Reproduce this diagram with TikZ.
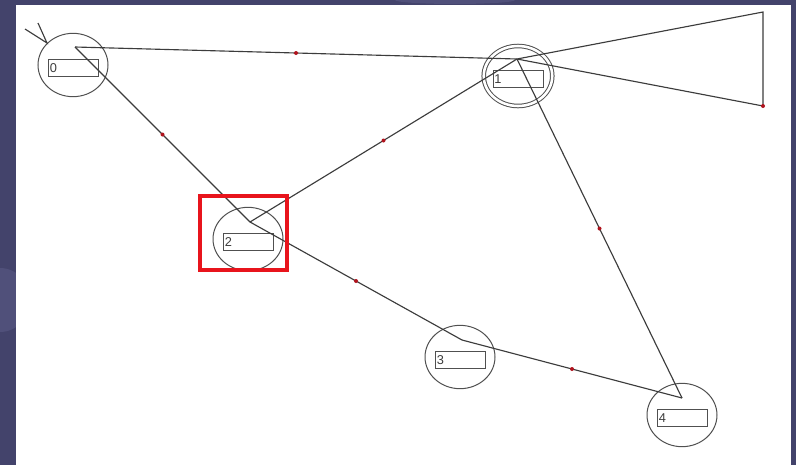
\documentclass[tikz,border=0pt]{standalone}
\usepackage{fontspec}
\setmainfont{Liberation Sans}
\usetikzlibrary{calc,positioning,shapes.geometric}
\definecolor{slate}{HTML}{43436B}
\definecolor{slatex}{HTML}{50507A}
\definecolor{inkx}{HTML}{3C3C3C}
\definecolor{grayx}{HTML}{505050}
\definecolor{dotred}{HTML}{B0141E}
\definecolor{markred}{HTML}{E8141C}
\tikzset{
  state/.style={ellipse,draw=grayx,line width=0.75pt,minimum width=52.5pt,minimum height=47.5pt,inner sep=0pt},
  accept/.style={state,double,double distance=1.9pt,minimum width=51.4pt,minimum height=45pt},
  tag/.style={draw=grayx,line width=0.75pt,text width=35.5pt,inner xsep=1pt,inner ysep=0pt,
    minimum height=12.75pt,align=left,font=\fontsize{9.6}{10}\selectfont,text=inkx},
  edge/.style={draw=inkx,line width=0.85pt},
  dot/.style={circle,fill=dotred,inner sep=0pt,minimum size=3pt}
}

\begin{document}
\begin{tikzpicture}[x=0.75pt,y=-0.75pt]
\useasboundingbox (0,0) rectangle (796,465);
\clip (0,0) rectangle (796,465);
% slide background and white panel
\fill[slate] (0,0) rectangle (796,465);
\fill[slatex] (0,300) ellipse (30 and 32);
\fill[slatex] (455,0) ellipse (60 and 4);
\fill[white] (16,5) rectangle (791,465);

% states: name/x/y/anchor x/anchor y
\foreach \n/\x/\y/\ax/\ay in {0/73/65/75/47, 2/248/239/250/222, 3/460/357/462/340, 4/682/415/682/398}{
  \node[state] (n\n) at (\x,\y) {};
  \node[tag] (t\n) at (\x+0.5,\y+3) {\n};
  \coordinate (a\n) at (\ax,\ay);
}
\node[accept] (n1) at (518,76) {};
\node[tag] (t1) at (518,79) {1};
\coordinate (a1) at (517,59);

% start mark on state 0
\coordinate (i0) at (47,43);
\draw[edge] (25,29) -- (i0) -- (38,23);

% transitions, control point in the middle
\draw[edge] (a0) -- node[dot]{} (a1);
\draw[edge] (a0) -- node[dot]{} (a2);
\draw[edge] (a2) -- node[dot]{} (a1);
\draw[edge] (a2) -- node[dot]{} (a3);
\draw[edge] (a1) -- node[dot]{} (a4);
\draw[edge] (a3) -- node[dot]{} (a4);

% loop on state 1
\coordinate (l1) at (763,12);
\coordinate (l2) at (763,106);
\draw[edge] (a1) -- (l1) -- (l2) -- (a1);
\node[dot] at (l2) {};

% selection frame around state 2
\draw[markred,line width=3.3pt] (200,196) rectangle (287,270);
\end{tikzpicture}
\end{document}
